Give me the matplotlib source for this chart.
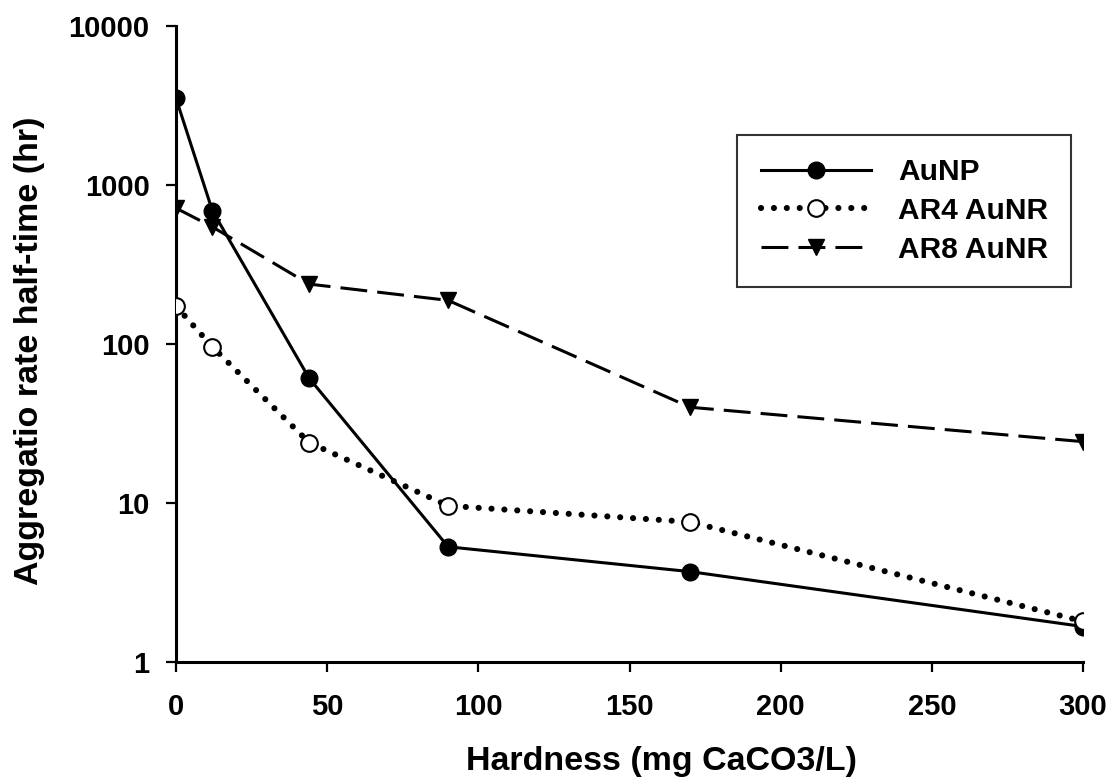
import matplotlib
matplotlib.use("Agg")
import matplotlib.pyplot as plt

# Water hardness levels (mg CaCO3/L)
hardness = [0, 12, 44, 90, 170, 300]

# Aggregation rate half-times (hr)
aunp = [3500, 690, 61, 5.3, 3.7, 1.67]
ar4_aunr = [173, 96, 24, 9.6, 7.6, 1.8]
ar8_aunr = [715, 545, 238, 188, 40, 24.3]

x_ticks = [0, 50, 100, 150, 200, 250, 300]
y_ticks = [1, 10, 100, 1000, 10000]

plt.rcParams["font.family"] = ["Liberation Sans", "DejaVu Sans"]
plt.rcParams["font.weight"] = "bold"

fig = plt.figure(figsize=(11.1, 7.82), dpi=100)
ax = fig.add_axes([0.1586, 0.1535, 0.8171, 0.8133])

ax.plot(hardness, aunp, color="black", lw=2.2, marker="o", ms=12,
        mfc="black", mec="black", label="AuNP", zorder=3)
ax.plot(hardness, ar4_aunr, color="black", lw=4.4,
        linestyle=(0, (0.01, 2.1)), dash_capstyle="round",
        marker="o", ms=12, mfc="white", mec="black", mew=1.5,
        label="AR4 AuNR", zorder=3)
ax.plot(hardness, ar8_aunr, color="black", lw=2.2,
        linestyle=(0, (8.8, 3.3)), marker="v", ms=11,
        mfc="black", mec="black", label="AR8 AuNR", zorder=3)

ax.set_yscale("log")
ax.set_xlim(0, 300)
ax.set_ylim(1, 10000)
ax.set_xticks(x_ticks)
ax.set_xticklabels([str(v) for v in x_ticks])
ax.set_yticks(y_ticks)
ax.set_yticklabels([str(v) for v in y_ticks])
ax.minorticks_off()

for side in ("top", "right"):
    ax.spines[side].set_visible(False)
for side in ("left", "bottom"):
    ax.spines[side].set_linewidth(2.2)

ax.tick_params(axis="both", direction="out", length=7, width=1.6,
               labelsize=21)
ax.tick_params(axis="x", pad=15)
ax.tick_params(axis="y", pad=12)
for lbl in ax.get_xticklabels() + ax.get_yticklabels():
    lbl.set_fontweight("bold")

ax.set_xlabel("Hardness (mg CaCO3/L)", fontsize=24.5, fontweight="bold")
ax.set_ylabel("Aggregatio rate half-time (hr)", fontsize=24.5,
              fontweight="bold")
ax.xaxis.set_label_coords(0.535, -0.132)
ax.yaxis.set_label_coords(-0.145, 0.49)

leg = ax.legend(loc="upper left", bbox_to_anchor=(0.619, 0.829),
                frameon=True, fancybox=False, shadow=False,
                fontsize=21.5, handlelength=3.7, handletextpad=0.9,
                borderpad=0.78, labelspacing=0.36, borderaxespad=0)
leg.get_frame().set_edgecolor("black")
leg.get_frame().set_linewidth(1.5)
for t in leg.get_texts():
    t.set_fontweight("bold")

fig.savefig("out.png", dpi=100)
